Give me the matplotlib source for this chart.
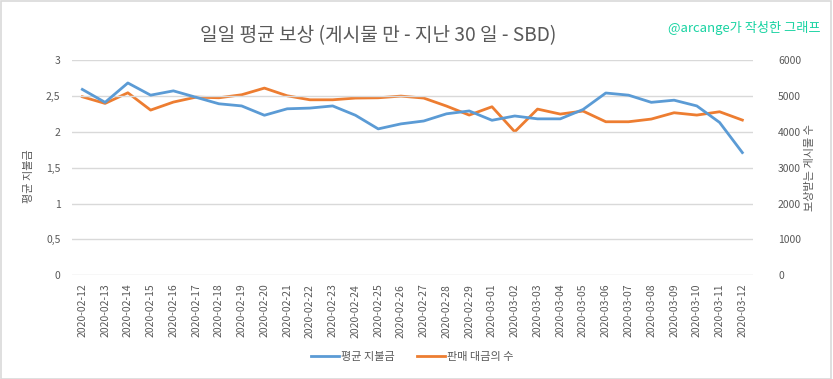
import matplotlib.pyplot as plt
from matplotlib.patches import Rectangle

plt.rcParams['font.family'] = ['Noto Sans CJK KR', 'DejaVu Sans']

dates = ['2020-02-%02d' % d for d in range(12, 30)] + ['2020-03-%02d' % d for d in range(1, 13)]

avg_payout = [2.59, 2.41, 2.68, 2.51, 2.57, 2.48, 2.39, 2.36, 2.23, 2.32,
              2.33, 2.36, 2.23, 2.04, 2.11, 2.15, 2.25, 2.29, 2.16, 2.22,
              2.18, 2.18, 2.31, 2.54, 2.51, 2.41, 2.44, 2.36, 2.13, 1.71]

post_count = [4975, 4790, 5086, 4604, 4827, 4966, 4947, 5031, 5217, 5003,
              4891, 4891, 4939, 4947, 4994, 4939, 4716, 4465, 4697, 4000,
              4632, 4493, 4577, 4279, 4279, 4354, 4530, 4465, 4558, 4326]

left_ticks = [0, 0.5, 1, 1.5, 2, 2.5, 3]
left_labels = ['0', '0,5', '1', '1,5', '2', '2,5', '3']
right_ticks = [0, 1000, 2000, 3000, 4000, 5000, 6000]

grey = '#595959'
grid = '#d9d9d9'
blue = '#5b9bd5'
orange = '#ed7d31'

fig = plt.figure(figsize=(8.33, 3.79), dpi=100)
ax = fig.add_axes([0.086, 0.2736, 0.818, 0.5681])
ax2 = ax.twinx()

x = list(range(len(dates)))
l1, = ax.plot(x, avg_payout, color=blue, lw=2, label='평균 지불금')
l2, = ax2.plot(x, post_count, color=orange, lw=2, label='판매 대금의 수')
ax.set_zorder(ax2.get_zorder() + 1)
ax.patch.set_visible(False)

ax.set_xlim(-0.47, 29.47)
ax.set_ylim(0, 3)
ax2.set_ylim(0, 6000)
ax.set_yticks(left_ticks)
ax.set_yticklabels(left_labels)
ax2.set_yticks(right_ticks)
ax.set_xticks(x)
ax.set_xticklabels(dates, rotation=90)
ax.grid(axis='y', color=grid, lw=1)
ax.set_axisbelow(True)

for a in (ax, ax2):
    for s in a.spines.values():
        s.set_visible(False)
    a.tick_params(length=0, labelsize=7.5, colors=grey)
ax.tick_params(axis='y', pad=8)
ax2.tick_params(axis='y', pad=18)
ax.tick_params(axis='x', pad=6)

ax.set_ylabel('평균 지불금', color=grey, fontsize=8)
ax.yaxis.set_label_coords(-0.055, 0.46)
ax2.set_ylabel('보상받는 게시물 수', color=grey, fontsize=8)
ax2.yaxis.set_label_coords(1.077, 0.5)

fig.text(0.454, 0.905, '일일 평균 보상 (게시물 만 - 지난 30 일 - SBD)',
         ha='center', va='center', fontsize=13.8, color=grey)
fig.text(0.985, 0.925, '@arcange가 작성한 그래프', ha='right', va='center',
         fontsize=9.5, color='#19d3a2')

fig.legend(handles=[l1, l2], loc='center', bbox_to_anchor=(0.495, 0.058),
           ncol=2, frameon=False, fontsize=8, labelcolor=grey,
           handlelength=2.5, handletextpad=0.2, columnspacing=2.0)

fig.patches.append(Rectangle((0.001, 0.001), 0.997, 0.996, transform=fig.transFigure,
                             fill=False, edgecolor=grid, lw=1.2))

fig.savefig('out.png', dpi=100)
